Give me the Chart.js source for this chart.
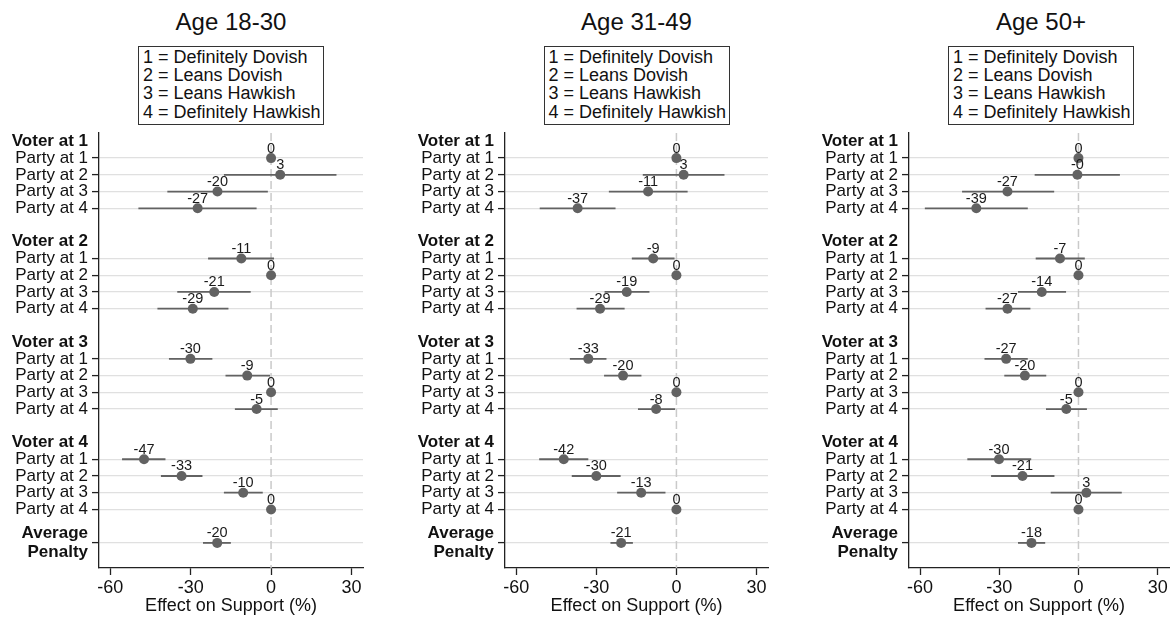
<!DOCTYPE html>
<html>
<head>
<meta charset="utf-8">
<title>Party penalty by voter position and age</title>
<script src="https://cdn.jsdelivr.net/npm/chart.js@4.4.1/dist/chart.umd.min.js"></script>
<style>
  html, body { margin: 0; padding: 0; background: #fff; width: 1174px; height: 618px; overflow: hidden;
    font-family: "Liberation Sans", Arial, sans-serif; }
  .panel-title { position: absolute; top: 8px; width: 260px; text-align: center; font-size: 24px;
    line-height: 28px; color: #111; }
  .key { position: absolute; top: 46px; width: 186px; height: 79px; border: 1px solid #333; box-sizing: border-box;
    padding: 1px 0 0 4px; font-size: 18px; line-height: 18.2px; color: #111; white-space: nowrap; }
  canvas { position: absolute; top: 120px; }
</style>
</head>
<body>
<script>
// Panel headings and the position key printed above each panel
const PANEL_TITLES = ['Age 18-30', 'Age 31-49', 'Age 50+'];
const KEY_LINES = ['1 = Definitely Dovish', '2 = Leans Dovish', '3 = Leans Hawkish', '4 = Definitely Hawkish'];

// Row labels
const VOTER_LABELS = ['Voter at 1', 'Voter at 2', 'Voter at 3', 'Voter at 4'];
const PARTY_LABELS = ['Party at 1', 'Party at 2', 'Party at 3', 'Party at 4'];
const AVERAGE_LABEL = ['Average', 'Penalty'];
const X_TICKS = [-60, -30, 0, 30];
const X_TITLE = 'Effect on Support (%)';

// Estimates and 95% intervals, order: voter 1 (party 1-4), voter 2, voter 3, voter 4, average penalty
const est_18_30 = [0, 3.4, -20.0, -27.4, -11.1, 0, -21.2, -29.2, -30.1, -8.9, 0, -5.4, -47.4, -33.4, -10.4, 0, -20.1];
const lo_18_30  = [null, -17.6, -38.7, -49.5, -23.5, null, -35.0, -42.4, -38.1, -17.0, null, -13.5, -55.6, -41.1, -17.6, null, -25.4];
const hi_18_30  = [null, 24.4, -1.2, -5.4, 1.1, null, -7.6, -15.9, -21.9, -0.4, null, 2.5, -39.4, -25.6, -3.1, null, -15.0];

const est_31_49 = [0, 2.7, -10.6, -37.0, -8.7, 0, -18.6, -28.6, -33.0, -20.0, 0, -7.6, -42.2, -30.0, -13.2, 0, -20.7];
const lo_31_49  = [null, -12.6, -25.3, -51.2, -16.7, null, -26.9, -37.4, -39.9, -27.1, null, -14.4, -51.4, -39.2, -22.2, null, -24.7];
const hi_31_49  = [null, 18.0, 4.2, -22.8, -0.7, null, -10.1, -19.4, -26.2, -13.1, null, -0.5, -33.0, -20.9, -4.1, null, -16.3];

const est_50_up = [0, -0.4, -26.9, -38.7, -7.0, 0, -13.9, -26.9, -27.4, -20.3, 0, -4.6, -30.1, -21.2, 3.0, 0, -17.8];
const lo_50_up  = [null, -16.6, -44.1, -58.2, -16.2, null, -22.9, -35.2, -35.6, -28.1, null, -12.3, -42.1, -33.1, -10.5, null, -22.9];
const hi_50_up  = [null, 15.7, -9.2, -19.2, 2.4, null, -4.7, -18.2, -19.2, -12.2, null, 3.2, -17.9, -9.1, 16.4, null, -12.6];

const FONT = '"Liberation Sans", Arial, sans-serif';
const MARK = '#626262';

// Panel placement on the page
const panels = [
  { title: PANEL_TITLES[0], est: est_18_30, lo: lo_18_30, hi: hi_18_30, left: 0,   width: 370, axisW: 99,  padR: 7 },
  { title: PANEL_TITLES[1], est: est_31_49, lo: lo_31_49, hi: hi_31_49, left: 400, width: 375, axisW: 105, padR: 7 },
  { title: PANEL_TITLES[2], est: est_50_up, lo: lo_50_up, hi: hi_50_up, left: 800, width: 374, axisW: 109, padR: 1 }
];

// Row layout: each voter block is a heading row plus four party rows, then a gap row
function rowOf(i) {
  if (i === 16) return 24;
  return Math.floor(i / 4) * 6 + 1 + (i % 4);
}
const Y_ROWS = [];
for (let g = 0; g < 4; g++) for (let r = 0; r < 5; r++) Y_ROWS.push(g * 6 + r);
Y_ROWS.push(24);

function isHeading(v) { return v % 6 === 0 && v !== 24; }
function rowLabel(v) {
  if (v === 24) return AVERAGE_LABEL;
  if (v % 6 === 0) return VOTER_LABELS[v / 6];
  return PARTY_LABELS[(v % 6) - 1];
}
function fmt(v) { return v.toFixed(0); }

// Draws the zero reference line, confidence intervals and value labels
const coefMarks = {
  id: 'coefMarks',
  beforeDatasetsDraw(chart, args, opts) {
    const p = panels[opts.panelIndex];
    const { ctx, chartArea, scales: { x, y } } = chart;
    ctx.save();
    const x0 = x.getPixelForValue(0);
    ctx.strokeStyle = '#cacaca';
    ctx.lineWidth = 1.5;
    ctx.setLineDash([8, 4]);
    ctx.beginPath();
    ctx.moveTo(x0, chartArea.top);
    ctx.lineTo(x0, chartArea.bottom);
    ctx.stroke();
    ctx.setLineDash([]);
    ctx.strokeStyle = MARK;
    ctx.lineWidth = 1.8;
    p.lo.forEach((lo, i) => {
      if (lo === null) return;
      const yy = y.getPixelForValue(rowOf(i));
      ctx.beginPath();
      ctx.moveTo(x.getPixelForValue(lo), yy);
      ctx.lineTo(x.getPixelForValue(p.hi[i]), yy);
      ctx.stroke();
    });
    ctx.restore();
  },
  afterDatasetsDraw(chart, args, opts) {
    const p = panels[opts.panelIndex];
    const { ctx, scales: { x, y } } = chart;
    ctx.save();
    ctx.font = '14.5px ' + FONT;
    ctx.fillStyle = '#1a1a1a';
    ctx.textAlign = 'center';
    ctx.textBaseline = 'alphabetic';
    p.est.forEach((v, i) => {
      ctx.fillText(fmt(v), x.getPixelForValue(v), y.getPixelForValue(rowOf(i)) - 5.5);
    });
    ctx.restore();
  }
};

panels.forEach((p, k) => {
  // heading and key above the panel, centred on the plot area
  const plotLeft = p.left + p.axisW;
  const plotRight = p.left + p.width - p.padR;
  const centre = (plotLeft + plotRight) / 2;

  const t = document.createElement('div');
  t.className = 'panel-title';
  t.textContent = p.title;
  t.style.left = (centre - 130) + 'px';
  document.body.appendChild(t);

  const key = document.createElement('div');
  key.className = 'key';
  key.style.left = (centre - 93) + 'px';
  KEY_LINES.forEach(line => {
    const d = document.createElement('div');
    d.textContent = line;
    key.appendChild(d);
  });
  document.body.appendChild(key);

  const cv = document.createElement('canvas');
  cv.width = p.width;
  cv.height = 498;
  cv.style.left = p.left + 'px';
  cv.style.width = p.width + 'px';
  cv.style.height = '498px';
  document.body.appendChild(cv);

  new Chart(cv, {
    type: 'scatter',
    data: {
      datasets: [{
        data: p.est.map((v, i) => ({ x: v, y: rowOf(i) })),
        pointRadius: 5,
        pointHoverRadius: 5,
        backgroundColor: MARK,
        borderWidth: 0
      }]
    },
    options: {
      responsive: false,
      animation: false,
      events: [],
      layout: { padding: { top: 13, right: p.padR, left: 0, bottom: 0 } },
      plugins: {
        legend: { display: false },
        tooltip: { enabled: false },
        coefMarks: { panelIndex: k }
      },
      scales: {
        x: {
          type: 'linear',
          min: -64.2,
          max: 34.3,
          afterBuildTicks: s => { s.ticks = X_TICKS.map(v => ({ value: v })); },
          afterFit: s => { s.height = 50; },
          grid: { drawOnChartArea: false, drawTicks: true, tickLength: 7, tickColor: '#222', tickWidth: 1.3 },
          border: { display: true, color: '#222', width: 1.3 },
          ticks: { autoSkip: false, maxRotation: 0, padding: 2, color: '#111', font: { family: FONT, size: 18 } },
          title: { display: true, text: X_TITLE, color: '#111', font: { family: FONT, size: 18 },
                   padding: { top: 0, bottom: 1 } }
        },
        y: {
          type: 'linear',
          reverse: true,
          min: -0.5,
          max: 25.5,
          afterBuildTicks: s => { s.ticks = Y_ROWS.map(v => ({ value: v })); },
          afterFit: s => { s.width = p.axisW; s.paddingTop = 0; s.paddingBottom = 0; },
          grid: {
            color: c => (c.tick && isHeading(c.tick.value)) ? 'rgba(0,0,0,0)' : '#e0e0e0',
            lineWidth: 1.2,
            drawTicks: true,
            tickLength: 7,
            tickColor: c => (c.tick && isHeading(c.tick.value)) ? 'rgba(0,0,0,0)' : '#222',
            tickWidth: 1.3
          },
          border: { display: true, color: '#222', width: 1.3 },
          ticks: {
            autoSkip: false,
            padding: 4,
            color: '#111',
            font: c => ({
              family: FONT,
              size: 17,
              lineHeight: 1.1,
              weight: (c.tick && (isHeading(c.tick.value) || c.tick.value === 24)) ? 'bold' : 'normal'
            }),
            callback: v => rowLabel(v)
          }
        }
      }
    },
    plugins: [coefMarks]
  });
});
</script>
</body>
</html>
